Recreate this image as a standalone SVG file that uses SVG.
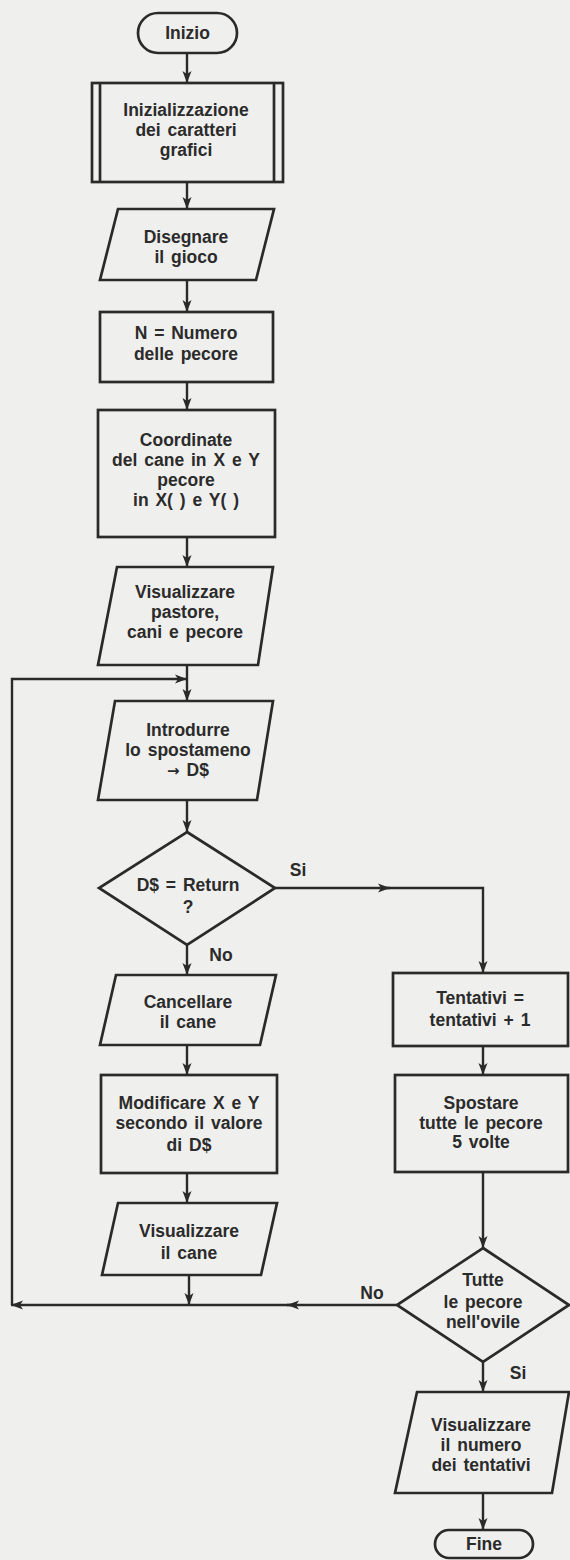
<svg xmlns="http://www.w3.org/2000/svg" width="570" height="1560" viewBox="0 0 570 1560">
<defs>
<marker id="ah" viewBox="0 0 12 10" refX="12" refY="5" markerWidth="12" markerHeight="10" markerUnits="userSpaceOnUse" orient="auto"><path d="M0,0.5 L12,5 L0,9.5 L3,5 Z" fill="#2a2a2a"/></marker>
</defs>
<style>
.s{fill:none;stroke:#2a2a2a;stroke-width:2.7;stroke-linejoin:miter}
.c{fill:none;stroke:#2a2a2a;stroke-width:2.4}
text{font-family:"Liberation Sans",Arial,sans-serif;font-weight:bold;font-size:17.5px;fill:#2b2b2b;text-anchor:middle;word-spacing:2px}
.ar{font-family:"DejaVu Sans",sans-serif;font-size:15px}
</style>
<rect x="0" y="0" width="570" height="1560" fill="#efefed"/>

<g id="connectors">
<path class="c" d="M187,53 V83" marker-end="url(#ah)"/>
<path class="c" d="M187,182 V209" marker-end="url(#ah)"/>
<path class="c" d="M187,280 V312" marker-end="url(#ah)"/>
<path class="c" d="M187,382 V410" marker-end="url(#ah)"/>
<path class="c" d="M187,537 V567" marker-end="url(#ah)"/>
<path class="c" d="M187,665 V701" marker-end="url(#ah)"/>
<path class="c" d="M187,800 V832" marker-end="url(#ah)"/>
<path class="c" d="M275,888 H390" marker-end="url(#ah)"/>
<path class="c" d="M386,888 H483 V973" marker-end="url(#ah)"/>
<path class="c" d="M187,945 V975" marker-end="url(#ah)"/>
<path class="c" d="M187,1045 V1075" marker-end="url(#ah)"/>
<path class="c" d="M187,1173 V1203" marker-end="url(#ah)"/>
<path class="c" d="M189,1275 V1305" marker-end="url(#ah)"/>
<path class="c" d="M483,1046 V1075" marker-end="url(#ah)"/>
<path class="c" d="M483,1172 V1248" marker-end="url(#ah)"/>
<path class="c" d="M397,1305 H287" marker-end="url(#ah)"/>
<path class="c" d="M292,1305 H11" marker-end="url(#ah)"/>
<path class="c" d="M12,1305 V679 H187" marker-end="url(#ah)"/>
<path class="c" d="M483,1362 V1392" marker-end="url(#ah)"/>
<path class="c" d="M483,1493 V1530" marker-end="url(#ah)"/>
<text x="298" y="876">Si</text>
<text x="221" y="961">No</text>
<text x="372" y="1299">No</text>
<text x="518" y="1379">Si</text>
</g>

<g id="inizio">
<rect class="s" x="138" y="13" width="99" height="40" rx="20"/>
<text x="187.5" y="39">Inizio</text>
</g>

<g id="init">
<rect class="s" x="92" y="83" width="191" height="99"/>
<path class="s" d="M100,83 V182 M274,83 V182"/>
<text x="186" y="116">Inizializzazione</text>
<text x="186" y="136">dei caratteri</text>
<text x="186" y="156">grafici</text>
</g>

<g id="disegnare">
<path class="s" d="M118,209 H274 L256,280 H100 Z"/>
<text x="186" y="243">Disegnare</text>
<text x="186" y="263">il gioco</text>
</g>

<g id="numero">
<rect class="s" x="100" y="312" width="173" height="70"/>
<text x="186" y="339">N = Numero</text>
<text x="186" y="360">delle pecore</text>
</g>

<g id="coordinate">
<rect class="s" x="98" y="410" width="177" height="127"/>
<text x="186" y="446">Coordinate</text>
<text x="186" y="466">del cane in X e Y</text>
<text x="186" y="486">pecore</text>
<text x="186" y="506">in X( ) e Y( )</text>
</g>

<g id="vis-pastore">
<path class="s" d="M117,567 H273 L258,665 H98 Z"/>
<text x="185" y="598">Visualizzare</text>
<text x="185" y="618">pastore,</text>
<text x="185" y="638">cani e pecore</text>
</g>

<g id="introdurre">
<path class="s" d="M115,701 H273 L257,800 H98 Z"/>
<text x="188" y="736">Introdurre</text>
<text x="188" y="756">lo spostameno</text>
<text x="188" y="776"><tspan class="ar">→</tspan> D$</text>
</g>

<g id="return">
<path class="s" d="M187,832 L275,888 L187,945 L99,888 Z"/>
<text x="188" y="891">D$ = Return</text>
<text x="188" y="913">?</text>
</g>

<g id="cancellare">
<path class="s" d="M116,975 H276 L260,1045 H100 Z"/>
<text x="188" y="1008">Cancellare</text>
<text x="188" y="1028">il cane</text>
</g>

<g id="modificare">
<rect class="s" x="101" y="1075" width="176" height="98"/>
<text x="189" y="1109">Modificare X e Y</text>
<text x="189" y="1129">secondo il valore</text>
<text x="189" y="1151">di D$</text>
</g>

<g id="vis-cane">
<path class="s" d="M118,1203 H277 L261,1275 H102 Z"/>
<text x="189" y="1237">Visualizzare</text>
<text x="189" y="1259">il cane</text>
</g>

<g id="tentativi">
<rect class="s" x="393" y="973" width="175" height="73"/>
<text x="480" y="1004">Tentativi =</text>
<text x="480" y="1026">tentativi + 1</text>
</g>

<g id="spostare">
<rect class="s" x="395" y="1075" width="173" height="97"/>
<text x="481" y="1109">Spostare</text>
<text x="481" y="1129">tutte le pecore</text>
<text x="481" y="1148">5 volte</text>
</g>

<g id="ovile">
<path class="s" d="M483,1248 L569,1305 L483,1362 L397,1305 Z"/>
<text x="483" y="1286">Tutte</text>
<text x="483" y="1308">le pecore</text>
<text x="483" y="1328">nell'ovile</text>
</g>

<g id="vis-numero">
<path class="s" d="M417,1392 H569 L552,1493 H395 Z"/>
<text x="481" y="1431">Visualizzare</text>
<text x="481" y="1451">il numero</text>
<text x="481" y="1471">dei tentativi</text>
</g>

<g id="fine">
<rect class="s" x="435" y="1530" width="98" height="28" rx="14"/>
<text x="484" y="1550">Fine</text>
</g>
</svg>
